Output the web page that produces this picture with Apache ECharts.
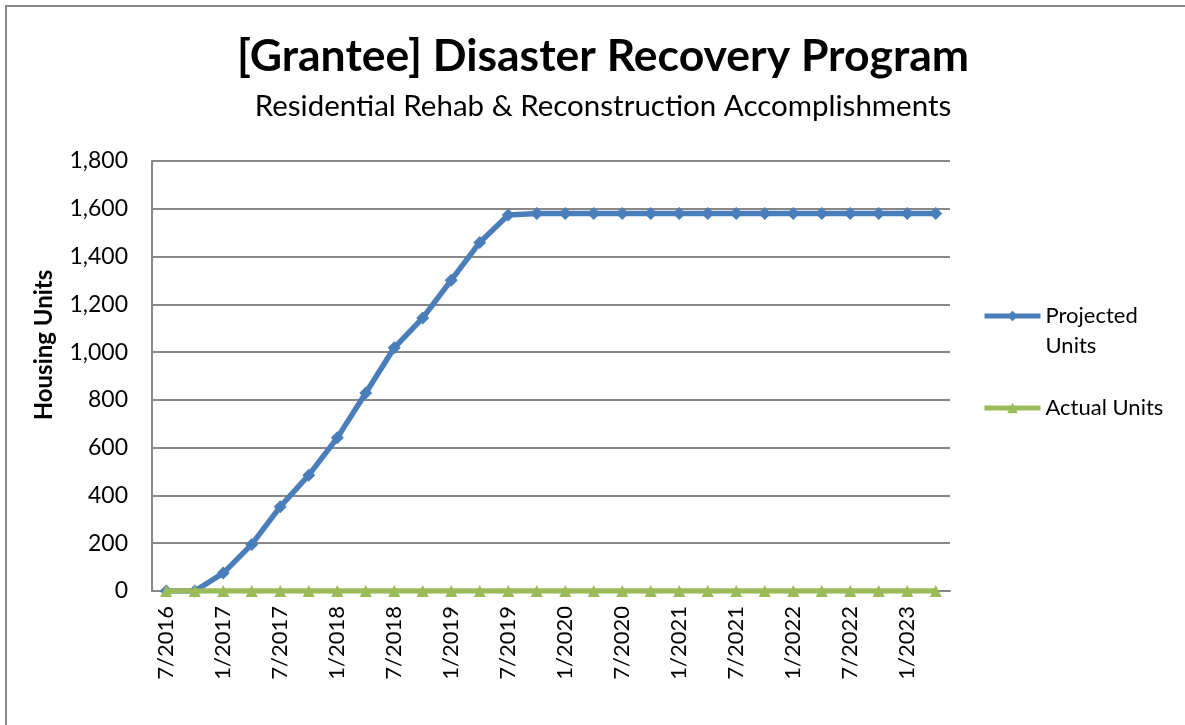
<!DOCTYPE html>
<html>
<head>
<meta charset="utf-8">
<title>Disaster Recovery Program</title>
<script src="https://cdn.jsdelivr.net/npm/echarts@6/dist/echarts.min.js"></script>
<style>
html, body { margin: 0; padding: 0; background: #fff; }
#chart { width: 1185px; height: 725px; }
</style>
</head>
<body>
<div id="chart"></div>
<script>
// --- data ---
var quarters = ["7/2016", "10/2016", "1/2017", "4/2017", "7/2017", "10/2017", "1/2018", "4/2018",
	"7/2018", "10/2018", "1/2019", "4/2019", "7/2019", "10/2019", "1/2020", "4/2020",
	"7/2020", "10/2020", "1/2021", "4/2021", "7/2021", "10/2021", "1/2022", "4/2022",
	"7/2022", "10/2022", "1/2023", "4/2023"];
var projectedUnits = [0, 0, 75, 195, 353, 485, 641, 829, 1018, 1143, 1301, 1459, 1574, 1580,
	1580, 1580, 1580, 1580, 1580, 1580, 1580, 1580, 1580, 1580, 1580, 1580, 1580, 1580];
var actualUnits = [0, 0, 0, 0, 0, 0, 0, 0, 0, 0, 0, 0, 0, 0,
	0, 0, 0, 0, 0, 0, 0, 0, 0, 0, 0, 0, 0, 0];

var font = "Lato, 'Open Sans', sans-serif";
var gridColor = "#878787";

var myChart = echarts.init(document.getElementById('chart'));
myChart.setOption({
	animation: false,
	title: [
		{
			text: "[Grantee] Disaster Recovery Program",
			left: 598,
			textAlign: "center",
			top: 29,
			textStyle: { fontFamily: font, fontSize: 44.5, fontWeight: "bold", color: "#000" }
		},
		{
			text: "Residential Rehab & Reconstruction Accomplishments",
			left: 598,
			textAlign: "center",
			top: 86,
			textStyle: { fontFamily: font, fontSize: 29.5, fontWeight: "normal", color: "#000" }
		}
	],
	legend: {
		orient: "vertical",
		left: 977,
		top: 266,
		itemWidth: 56,
		itemHeight: 13,
		itemGap: 32,
		data: ["Projected Units", "Actual Units"],
		lineStyle: { width: 5 },
		formatter: function (name) {
			// Excel wraps the first entry; blank line keeps the icon on "Projected"
			return name === "Projected Units" ? " \nProjected\nUnits" : name;
		},
		textStyle: { fontFamily: font, fontSize: 22, color: "#000", lineHeight: 30 }
	},
	grid: { left: 152, right: 235, top: 161, bottom: 134, containLabel: false },
	xAxis: {
		type: "category",
		data: quarters,
		boundaryGap: true,
		axisTick: { show: false },
		axisLine: { show: true, lineStyle: { color: gridColor, width: 2 } },
		axisLabel: {
			interval: 1,
			rotate: 90,
			margin: 15,
			fontFamily: font,
			fontSize: 22,
			color: "#000"
		}
	},
	yAxis: {
		type: "value",
		min: 0,
		max: 1800,
		interval: 200,
		name: "Housing Units",
		nameLocation: "middle",
		nameGap: 96,
		nameRotate: 90,
		nameTextStyle: { fontFamily: font, fontSize: 24, fontWeight: "bold", color: "#000", padding: [0, 0, 0, 62] },
		axisLine: { show: true, lineStyle: { color: gridColor, width: 2 } },
		axisTick: { show: false },
		splitLine: { show: true, lineStyle: { color: gridColor, width: 2 } },
		axisLabel: {
			margin: 24,
			fontFamily: font,
			fontSize: 23,
			color: "#000",
			formatter: function (v) { return v.toLocaleString("en-US"); }
		}
	},
	series: [
		{
			name: "Projected Units",
			type: "line",
			data: projectedUnits,
			symbol: "diamond",
			symbolSize: 13,
			lineStyle: { color: "#4a7ebb", width: 5.5 },
			itemStyle: { color: "#4a7ebb" },
			z: 2
		},
		{
			name: "Actual Units",
			type: "line",
			data: actualUnits,
			symbol: "triangle",
			symbolSize: 12,
			lineStyle: { color: "#9bbb59", width: 5.5 },
			itemStyle: { color: "#9bbb59" },
			z: 3
		}
	],
	graphic: [
		{ type: "line", shape: { x1: 5, y1: 6, x2: 1185, y2: 6 }, style: { stroke: gridColor, lineWidth: 2 } },
		{ type: "line", shape: { x1: 6, y1: 5, x2: 6, y2: 725 }, style: { stroke: gridColor, lineWidth: 2 } }
	]
});
</script>
</body>
</html>
